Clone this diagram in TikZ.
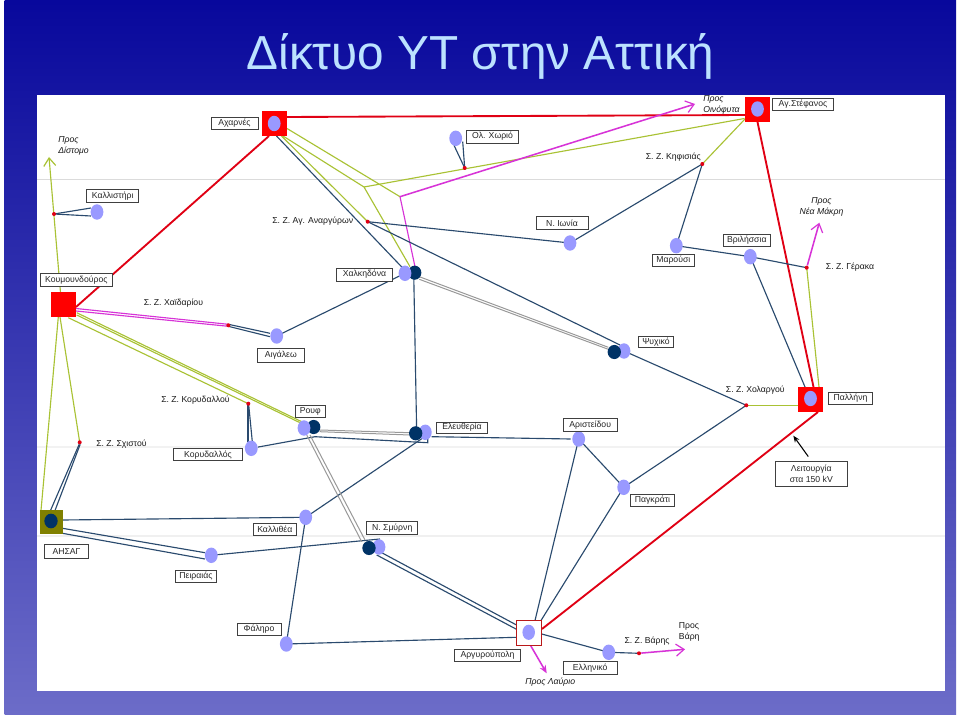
\documentclass[tikz,border=0pt]{standalone}
\usepackage{fontspec}
\setmainfont{Liberation Sans}
\usetikzlibrary{shapes.geometric,arrows.meta}
\pgfdeclarelayer{bgl}
\pgfdeclarelayer{edges}
\pgfsetlayers{bgl,edges,main}
\definecolor{slidetop}{HTML}{08089C}
\definecolor{slidebot}{HTML}{6C6CC8}
\definecolor{titlec}{HTML}{BCE2FF}
\definecolor{lav}{HTML}{9999FF}
\definecolor{deep}{HTML}{003366}
\definecolor{navy}{HTML}{2A4A6E}
\definecolor{yel}{HTML}{A9C234}
\definecolor{mag}{HTML}{D733D7}
\definecolor{redl}{HTML}{E00014}
\definecolor{greyl}{HTML}{999999}
\definecolor{olive}{HTML}{808000}
\tikzset{
  lab/.style={draw=black!75,line width=0.6pt,fill=white,inner sep=0pt,font=\fontsize{6.5}{8.2}\selectfont,text=black!85,align=center},
  txt/.style={inner sep=0pt,font=\fontsize{6.5}{8.2}\selectfont,text=black!90,align=left},
  itx/.style={txt,font=\fontsize{6.5}{8.2}\selectfont\itshape},
  sub/.style={ellipse,fill=lav,inner sep=0pt,minimum width=9.6pt,minimum height=11.6pt},
  dk/.style={ellipse,fill=deep,inner sep=0pt,minimum width=10pt,minimum height=10.6pt},
  sq/.style={rectangle,fill=red,inner sep=0pt,minimum size=18.9pt},
  dot/.style={circle,fill=redl,inner sep=0pt,minimum size=3pt},
  nv/.style={draw=navy,line width=0.85pt},
  yl/.style={draw=yel,line width=0.85pt},
  mg/.style={draw=mag,line width=0.85pt},
  mgb/.style={draw=mag,line width=1.15pt},
  rd/.style={draw=redl,line width=1.4pt},
  gr/.style={draw=greyl,line width=0.75pt},
  barb/.style={-{Straight Barb[length=6pt,width=9pt,line width=0.9pt]}},
}
\newcommand{\ED}[5]{\draw[#1] ([shift={(#3)}]#2.center) -- ([shift={(#5)}]#4.center);}
\newcommand{\LB}[6]{\node[lab,minimum width=#5*0.75pt,minimum height=#6*0.75pt] (#1) at (#3,#4) {#2};}
\begin{document}
\begin{tikzpicture}[x=0.75pt,y=-0.75pt]
\useasboundingbox (0,0) rectangle (960,716);
\begin{pgfonlayer}{bgl}
\fill[white] (0,0) rectangle (960,716);
\shade[top color=slidetop,bottom color=slidebot,draw=none] (4.5,1) rectangle (956,714);
\fill[white] (37,95) rectangle (945,691);
\draw[black!14,line width=0.6pt] (37,179) -- (945,179);
\draw[black!5,line width=0.8pt] (37,447) -- (945,447);
\draw[black!6,line width=0.8pt] (37,536) -- (945,536);
\end{pgfonlayer}
\node[inner sep=0pt,font=\fontsize{35.8}{40}\selectfont,text=titlec] (title) at (480.5,56.5) {Δίκτυο ΥΤ στην Αττική};
% major stations
\node[sq] (A) at (274.5,123.5) {};
\node[sq] (S) at (757.5,109.5) {};
\node[sq] (K) at (63.5,304.5) {};
\node[sq] (P) at (810.5,399.5) {};
\node[rectangle,fill=olive,inner sep=0pt,minimum width=17.4pt,minimum height=18pt] (X) at (51.5,522) {};
\node[rectangle,draw=red!70!black!90,fill=white,line width=0.8pt,inner sep=0pt,minimum size=18.6pt] (G) at (529,633) {};
% circles
\node[sub] (Ac) at (274.2,123.5) {};
\node[sub] (Sc) at (757.5,109) {};
\node[sub] (Pc) at (810.5,398.5) {};
\node[sub,minimum width=9.4pt,minimum height=11.4pt] (Gc) at (528.7,632.3) {};
\node[dk,minimum height=11pt] (Xc) at (51,521) {};
\node[sub] (Kl) at (97,212) {};
\node[sub] (Ai) at (276.7,336) {};
\node[dk] (H2) at (414.7,272.7) {};
\node[sub] (H1) at (405,273.3) {};
\node[sub] (Ol) at (455.7,138.3) {};
\node[sub] (Io) at (570,243) {};
\node[sub] (Ma) at (676.3,245.7) {};
\node[sub] (Vr) at (750.3,256.7) {};
\node[sub] (P1) at (624,351) {};
\node[dk] (P2) at (614.3,352) {};
\node[sub] (Kr) at (251.3,448.3) {};
\node[dk] (R2) at (313.7,427) {};
\node[sub] (R1) at (304,428) {};
\node[sub] (E1) at (425.3,432.3) {};
\node[dk] (E2) at (415.7,433.3) {};
\node[sub] (Ka) at (305.7,517.3) {};
\node[sub] (Pe) at (211.3,555.3) {};
\node[sub] (N1) at (379,547) {};
\node[dk] (N2) at (369,548) {};
\node[sub] (Fa) at (286.3,644) {};
\node[sub] (Ar) at (578.7,439) {};
\node[sub] (Pa) at (623.7,487.3) {};
\node[sub] (El) at (608.7,652.3) {};
% red dots
\node[dot] (dDi) at (54,214) {};
\node[dot] (dAn) at (367.7,221.7) {};
\node[dot] (dOl) at (464.7,168) {};
\node[dot] (dKi) at (702.3,164) {};
\node[dot] (dGe) at (806.7,267.7) {};
\node[dot] (dXa) at (228.3,325.3) {};
\node[dot] (dKo) at (248.3,403.7) {};
\node[dot] (dSc) at (79.7,442.3) {};
\node[dot] (dCh) at (746.3,405.3) {};
\node[dot] (dVa) at (639,653.3) {};
% free ends
\coordinate (b1) at (400,196.7);
\coordinate (b2) at (364,187);
\coordinate (tDi) at (49,157);
\coordinate (tOi) at (695,104);
\coordinate (tNe) at (819.3,222.7);
\coordinate (tVa) at (685,649.3);
\coordinate (tLa) at (546.7,673.3);
\coordinate (tLe) at (793.3,435.7);
\coordinate (rb) at (315,436.7);
\coordinate (ea) at (427.7,442.7);
% labels
\LB{lAx}{Αχαρνές}{234.5}{123.2}{47}{12.5}
\LB{lKl}{Καλλιστήρι}{112.7}{196}{52}{12.6}
\LB{lKo}{Κουμουνδούρος}{76.3}{279.8}{72}{13}
\LB{lXa}{Χαλκηδόνα}{364.5}{274.6}{56.4}{12.7}
\LB{lAi}{Αιγάλεω}{280.8}{355.3}{47}{13.3}
\LB{lOl}{Ολ. Χωριό}{492.5}{136.6}{52.4}{12.7}
\LB{lIo}{Ν. Ιωνία}{562}{222.8}{52}{12.3}
\LB{lSt}{Αγ.Στέφανος}{803}{104.5}{60.6}{12.4}
\LB{lVr}{Βριλήσσια}{746.8}{240.2}{47.7}{12.3}
\LB{lMa}{Μαρούσι}{673.3}{260.3}{41.3}{12.7}
\LB{lPs}{Ψυχικό}{656}{341.8}{34.6}{11.7}
\LB{lRo}{Ρουφ}{310.3}{411.5}{29.3}{11.6}
\LB{lEl}{Ελευθερία}{462}{427.6}{50.6}{11.3}
\LB{lKr}{Κορυδαλλός}{208}{454.7}{69.4}{12}
\LB{lKa}{Καλλιθέα}{274.8}{529.3}{43}{12}
\LB{lNs}{Ν. Σμύρνη}{392.2}{527.8}{51}{12.3}
\LB{lAh}{ΑΗΣΑΓ}{66.5}{551.3}{44.4}{13.3}
\LB{lPe}{Πειραιάς}{196}{576}{41.4}{12}
\LB{lFa}{Φάληρο}{259}{629.3}{44}{12.7}
\LB{lAg}{Αργυρούπολη}{487.5}{655.5}{65.6}{12.4}
\LB{lAr}{Αριστείδου}{590.2}{425}{53.7}{12.6}
\LB{lPg}{Παγκράτι}{652.5}{500.5}{44.4}{12.4}
\LB{lPl}{Παλλήνη}{850.5}{398.3}{43.6}{12}
\LB{lEk}{Ελληνικό}{590.2}{667.8}{53.7}{12.3}
\LB{lLe}{Λειτουργία\\στα 150 kV}{811.3}{473.5}{72}{25}
% plain texts
\node[itx,anchor=west] (tA) at (58,145.5) {Προς\\Δίστομο};
\node[itx,anchor=west] (tB) at (703,104.5) {Προς\\Οινόφυτα};
\node[itx,align=center] (tC) at (821.5,206.5) {Προς\\Νέα Μάκρη};
\node[txt,anchor=east] (tD) at (353.5,221) {Σ. Ζ. Αγ. Αναργύρων};
\node[txt,anchor=east] (tE) at (701,157) {Σ. Ζ. Κηφισιάς};
\node[txt,anchor=west] (tF) at (825.7,267) {Σ. Ζ. Γέρακα};
\node[txt,anchor=west] (tG) at (143.5,303) {Σ. Ζ. Χαϊδαρίου};
\node[txt,anchor=west] (tH) at (161,400.5) {Σ. Ζ. Κορυδαλλού};
\node[txt,anchor=west] (tI) at (96,444) {Σ. Ζ. Σχιστού};
\node[txt,anchor=west] (tJ) at (725.7,390.3) {Σ. Ζ. Χολαργού};
\node[txt,anchor=west] (tK) at (624.3,641) {Σ. Ζ. Βάρης};
\node[txt,anchor=west] (tL) at (678.7,631.5) {Προς\\Βάρη};
\node[itx,anchor=west] (tM) at (525,682.5) {Προς Λαύριο};
\begin{pgfonlayer}{edges}
% red 400 kV
\ED{rd}{A}{12.5,-6.5}{S}{-12.5,5.5}
\ED{rd}{K}{12.5,2.5}{A}{-5.5,12.5}
\ED{rd}{S}{0,12.5}{P}{3,-12.5}
\ED{rd}{P}{7.5,12.5}{G}{13,-4}
% yellow
\draw[yl] ([shift={(12.5,5)}]A.center) -- (b1);
\draw[yl] ([shift={(8.5,12.5)}]A.center) -- (b2);
\ED{yl}{A}{7,12.5}{dAn}{0,0}
\draw[yl] (b2) -- ([shift={(-13,9)}]S.center);
\draw[yl] (b2) -- ([shift={(-4.7,-6)}]H2.center);
\ED{yl}{S}{-12.5,9.5}{dKi}{0,0}
\draw[yl,barb] ([shift={(-3,-12)}]K.center) -- (tDi);
\ED{yl}{K}{13.2,8.2}{R1}{-2.3,-6.3}
\ED{yl}{K}{13.2,10.5}{R1}{-4,-5.3}
\ED{yl}{K}{4.8,13.2}{dKo}{0,0}
\ED{yl}{K}{-3.5,12.5}{dSc}{0,0}
\ED{yl}{K}{-5.2,12.5}{X}{-10.5,-11.5}
\ED{yl}{dGe}{0,0}{P}{8.5,-12.5}
\ED{yl}{dCh}{0,0}{P}{-12.5,5.8}
% magenta
\draw[mg] (b1) -- ([shift={(0.3,-6)}]H2.center);
\draw[mgb,barb] (b1) -- (tOi);
\draw[mgb,barb] (dGe) -- (tNe);
\draw[mgb,barb] (dVa) -- (tVa);
\draw[mgb,-{Stealth[length=6pt,width=5pt]}] ([shift={(1.7,12.7)}]G.center) -- (tLa);
\ED{mg}{K}{12.5,4}{dXa}{0,-1}
\ED{mg}{K}{12.5,6.5}{dXa}{0,1}
% navy
\ED{nv}{A}{2,12.5}{H1}{-2,-5}
\ED{nv}{dDi}{0,0}{Kl}{-6,-4}
\ED{nv}{dDi}{0,0}{Kl}{-6,4}
\ED{nv}{dOl}{0,0}{Ol}{-1.7,7}
\ED{nv}{dOl}{0,0}{Ol}{7,3.4}
\ED{nv}{dKi}{0,0}{Io}{0,0}
\ED{nv}{dKi}{0,0}{Ma}{0,0}
\ED{nv}{Ma}{0,0}{Vr}{0,0}
\ED{nv}{Vr}{0,0}{dGe}{0,0}
\ED{nv}{Vr}{0,0}{P}{-5.5,-12.5}
\ED{nv}{dAn}{0,0}{Io}{0,0}
\ED{nv}{dAn}{0,0}{P1}{-4,-6}
\ED{nv}{P1}{0,0}{dCh}{0,0}
\ED{nv}{Pa}{0,0}{dCh}{0,0}
\ED{nv}{Pa}{0,0}{Ar}{0,0}
\ED{nv}{H1}{0,0}{Ai}{0,0}
\ED{nv}{H2}{-1,0}{E2}{1,0}
\ED{nv}{Ai}{-6.7,-2.7}{dXa}{1,-0.8}
\ED{nv}{Ai}{-6.7,0.7}{dXa}{0,1}
\ED{nv}{dSc}{-0.5,2}{X}{-1,-11.5}
\ED{nv}{dSc}{0.5,2}{X}{3.5,-11.5}
\ED{nv}{dKo}{-0.3,0}{Kr}{-3.3,-6.6}
\ED{nv}{dKo}{0.3,0}{Kr}{1,-6.6}
\draw[nv] (Kr) -- (rb) -- (ea) -- ([shift={(2.4,5.7)}]E1.center);
\ED{nv}{E1}{6.4,4.4}{Ar}{-8,0}
\ED{nv}{E1}{0,4}{Ka}{0,0}
\ED{nv}{X}{11,-2}{Ka}{0,0}
\ED{nv}{X}{11,6.3}{Pe}{-6.3,-2.6}
\ED{nv}{X}{11,11.3}{Pe}{-6.3,3.7}
\ED{nv}{Pe}{0,0}{N1}{1,-8}
\ED{nv}{N1}{2.7,5.7}{G}{-12.5,-8}
\ED{nv}{N1}{-2.3,8}{G}{-12.5,-3.7}
\ED{nv}{Ka}{0,0}{Fa}{0,0}
\ED{nv}{Fa}{0,0}{G}{-12.5,4.3}
\ED{nv}{Ar}{0,0}{G}{6,-12.5}
\ED{nv}{Pa}{0,0}{G}{12,-12.5}
\ED{nv}{G}{12.7,1}{El}{0,0}
\ED{nv}{El}{0,0}{dVa}{0,0}
% grey double
\ED{gr}{H2}{4.6,4}{P2}{-6,-4.7}
\ED{gr}{H2}{4.6,6.6}{P2}{-6,-2.7}
\ED{gr}{R2}{6,3}{E2}{-5.7,-0.6}
\ED{gr}{R2}{6,4.7}{E2}{-5.7,1.7}
\ED{gr}{R1}{2.7,7}{N2}{-7.3,-6.3}
\ED{gr}{R1}{6,7}{N2}{-4,-8}
% black arrow
\draw[black,line width=0.8pt,-{Stealth[length=5pt,width=4pt]}] ([shift={(-3,-4)}]lLe.north) -- (tLe);
\end{pgfonlayer}
\end{tikzpicture}
\end{document}
